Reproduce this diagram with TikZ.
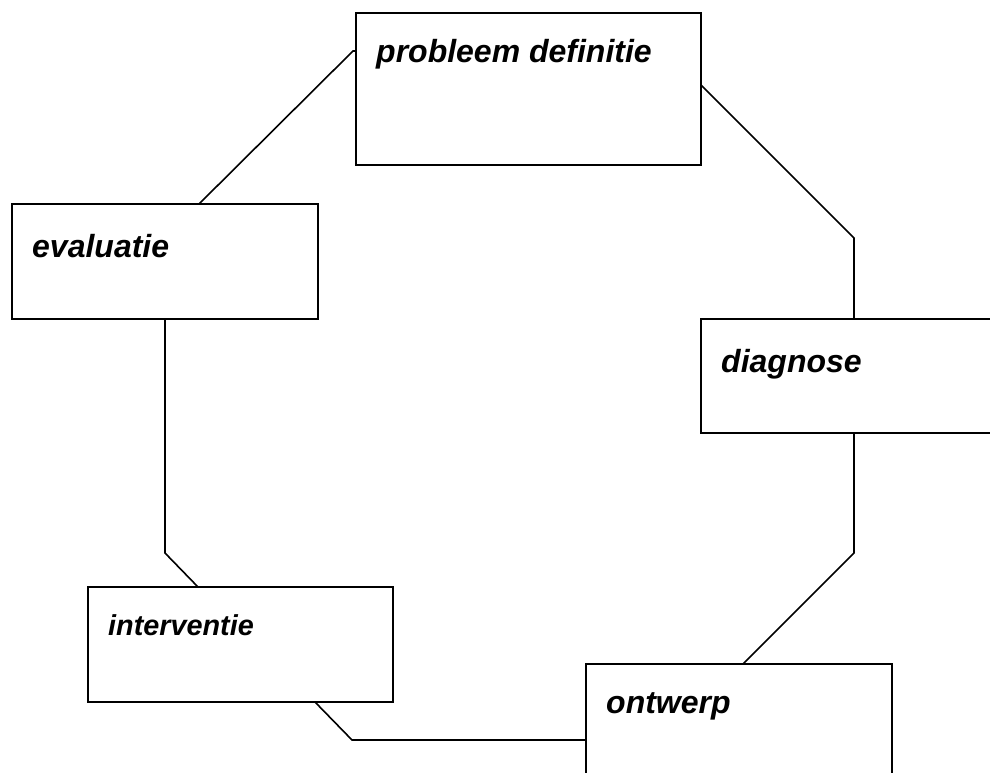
\documentclass[tikz,border=0pt]{standalone}
\usepackage{fontspec}
\setmainfont{Liberation Sans}
\usetikzlibrary{calc}
\begin{document}
\begin{tikzpicture}[x=1pt,y=-1pt,
  box/.style={draw=black, line width=1.6pt, rectangle, anchor=north west, inner sep=0pt, outer sep=0pt},
  lbl/.style={anchor=base west, inner sep=0pt, font=\fontsize{32}{37}\selectfont\bfseries\itshape},
  lblsmall/.style={lbl, font=\fontsize{28.8}{34}\selectfont\bfseries\itshape},
  conn/.style={draw=black, line width=1.6pt, line join=miter}]
\useasboundingbox (0,0) rectangle (990,773);
\clip (0,0) rectangle (990,773);
\fill[white] (0,0) rectangle (990,773);
% boxes
\node[box, minimum width=345pt, minimum height=152pt] (pd) at (356,13) {};
\node[box, minimum width=306pt, minimum height=115pt] (ev) at (12,204) {};
\node[box, minimum width=306pt, minimum height=114pt] (dg) at (701,319) {};
\node[box, minimum width=305pt, minimum height=115pt] (iv) at (88,587) {};
\node[box, minimum width=306pt, minimum height=115pt] (ow) at (586,664) {};
% labels
\node[lbl] (pdt) at (376,63) {probleem definitie};
\node[lbl] (evt) at (32,257) {evaluatie};
\node[lbl] (dgt) at (721,372) {diagnose};
\node[lblsmall] (ivt) at (108,635) {interventie};
\node[lbl] (owt) at (606,713) {ontwerp};
% connectors
\coordinate (c1) at ($(pd.north east)+(0,72)$);
\draw[conn] (c1) -- (dg.north |- 0,238) -- (dg.north);
\draw[conn] (dg.south) -- (dg.south |- 0,553) -- ($(ow.north west)+(157,0)$);
\draw[conn] ($(iv.south west)+(227,0)$) -- ($(iv.south west)+(264,38)$) -- ($(ow.north west)+(0,76)$);
\draw[conn] (ev.south) -- (ev.south |- 0,553) -- ($(iv.north west)+(110,0)$);
\draw[conn] ($(ev.north west)+(187,0)$) -- ($(pd.north west)+(-3,38)$) -- ($(pd.north west)+(0,38)$);
\end{tikzpicture}
\end{document}
